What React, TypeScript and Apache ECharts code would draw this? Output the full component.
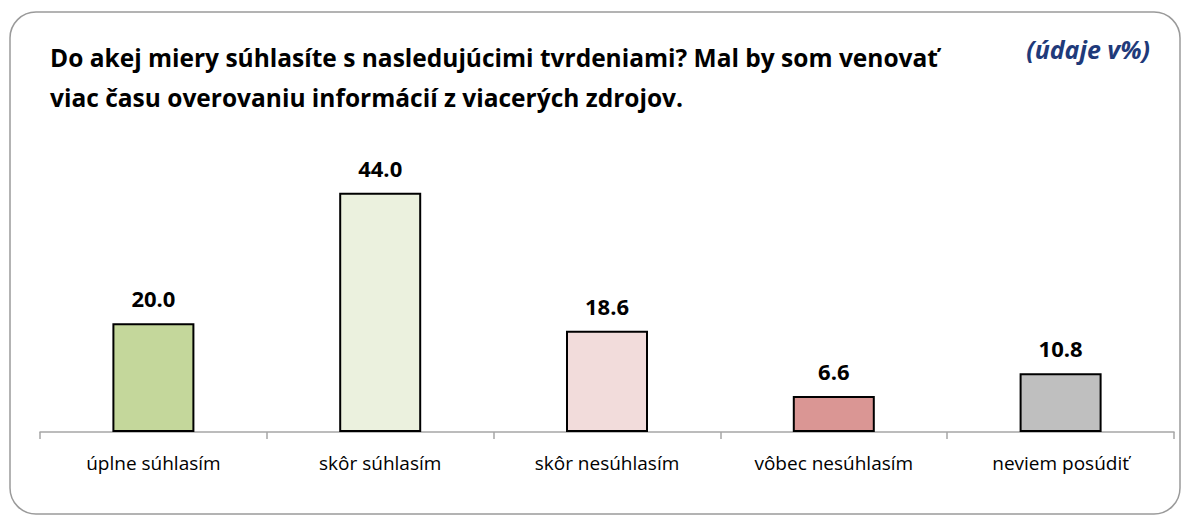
import React, { useEffect, useRef } from "react";
import * as echarts from "echarts";

const categories = ["úplne súhlasím", "skôr súhlasím", "skôr nesúhlasím", "vôbec nesúhlasím", "neviem posúdiť"];
const values = [20.0, 44.0, 18.6, 6.6, 10.8];
const barColors = ["#C4D79B", "#EBF1DE", "#F2DCDB", "#DA9694", "#BFBFBF"];
const titleLines = [
  "Do akej miery súhlasíte s nasledujúcimi tvrdeniami? Mal by som venovať",
  "viac času overovaniu informácií z viacerých zdrojov.",
];
const unitNote = "(údaje v%)";

export default function App() {
  const ref = useRef<HTMLDivElement>(null);
  useEffect(() => {
    document.body.style.margin = "0";
    const chart = echarts.init(ref.current!, null, { renderer: "svg" });
    chart.setOption({
      animation: false,
      backgroundColor: "#ffffff",
      textStyle: { fontFamily: "Open Sans" },
      graphic: [
        {
          type: "rect",
          shape: { x: 10, y: 12, width: 1170, height: 502, r: 26 },
          style: { fill: "none", stroke: "#9a9a9a", lineWidth: 1.5 },
          silent: true,
        },
        {
          type: "text",
          left: 50,
          top: 37,
          style: {
            text: titleLines.join("\n"),
            font: "bold 24.5px 'Open Sans'",
            fill: "#000000",
            lineHeight: 40,
          },
        },
        {
          type: "text",
          right: 37,
          top: 36,
          style: {
            text: unitNote,
            font: "italic bold 25px 'Open Sans'",
            fill: "#1F3A7A",
          },
        },
      ],
      grid: { left: 40, right: 13, top: 160, height: 272 },
      xAxis: {
        type: "category",
        data: categories,
        boundaryGap: true,
        axisLine: { lineStyle: { color: "#A6A6A6", width: 1.5 } },
        axisTick: { show: true, length: 7, lineStyle: { color: "#A6A6A6", width: 1.5 } },
        axisLabel: { color: "#000000", fontSize: 19, margin: 21, fontFamily: "Open Sans" },
      },
      yAxis: {
        type: "value",
        min: 0,
        max: 50,
        show: false,
        splitLine: { show: false },
      },
      series: [
        {
          type: "bar",
          barWidth: 82,
          data: values.map((v, i) => ({
            value: v,
            itemStyle: { color: barColors[i], borderColor: "#000000", borderWidth: 2 },
          })),
          label: {
            show: true,
            position: "top",
            distance: 14,
            formatter: (p: any) => Number(p.value).toFixed(1),
            fontSize: 22,
            fontWeight: "bold",
            color: "#000000",
            fontFamily: "Open Sans",
          },
        },
      ],
    });
    return () => chart.dispose();
  }, []);
  return (
    <div
      ref={ref}
      style={{ position: "absolute", left: 0, top: 0, width: 1187, height: 521 }}
    />
  );
}
